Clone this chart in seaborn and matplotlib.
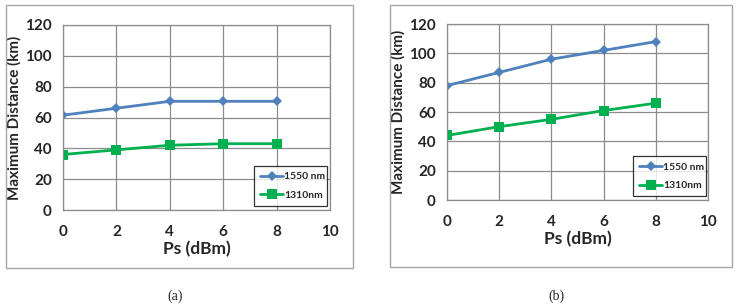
import matplotlib
matplotlib.use("Agg")
import matplotlib.pyplot as plt
import seaborn as sns
import pandas as pd
from matplotlib.patches import Rectangle

ps = [0, 2, 4, 6, 8]
a_1550 = [61.5, 66, 70.5, 70.5, 70.5]
a_1310 = [36, 39, 42, 43, 43]
b_1550 = [78, 87, 96, 102, 108]
b_1310 = [44, 50, 55, 61, 66]
series_names = ["1550 nm", "1310nm"]
x_ticks = [0, 2, 4, 6, 8, 10]
y_ticks = [0, 20, 40, 60, 80, 100, 120]
captions = ["(a)", "(b)"]

sns.set_theme(style="white")
plt.rcParams["font.family"] = ["Lato", "DejaVu Sans"]

fig = plt.figure(figsize=(7.39, 3.07), dpi=100)
W, H = 739, 307

def frac_rect(x0, y0, x1, y1):
    return [x0 / W, 1 - y1 / H, (x1 - x0) / W, (y1 - y0) / H]

# outer frames
for (x0, y0, x1, y1) in [(6, 5, 353, 268), (390, 5, 732, 267)]:
    fig.patches.append(Rectangle((x0 / W, 1 - y1 / H), (x1 - x0) / W, (y1 - y0) / H,
                                 transform=fig.transFigure, fill=False,
                                 edgecolor="#a6a6a6", linewidth=1.0))

axes_specs = [
    (frac_rect(63, 25, 330, 210), a_1550, a_1310, (0.715, 0.02, 0.275, 0.24), -0.154),
    (frac_rect(447, 24, 708, 200), b_1550, b_1310, (0.712, 0.02, 0.282, 0.255), -0.157),
]
palette = {"1550 nm": "#4f81bd", "1310nm": "#00b050"}
markers = {"1550 nm": "D", "1310nm": "s"}

for rect, s1, s2, legbox, ylx in axes_specs:
    ax = fig.add_axes(rect)
    df = pd.DataFrame({
        "Ps": ps + ps,
        "Distance": s1 + s2,
        "Series": [series_names[0]] * len(ps) + [series_names[1]] * len(ps),
    })
    sns.lineplot(data=df, x="Ps", y="Distance", hue="Series", style="Series",
                 markers=markers, dashes=False, palette=palette, ax=ax,
                 linewidth=2, markersize=7, markeredgewidth=0)
    for line in ax.lines:
        if line.get_marker() == "D":
            line.set_markersize(5.5)
    ax.set_xlim(0, 10)
    ax.set_ylim(0, 120)
    ax.set_xticks(x_ticks)
    ax.set_yticks(y_ticks)
    ax.grid(True, color="#8c8c8c", linewidth=0.9)
    ax.set_axisbelow(True)
    for sp in ax.spines.values():
        sp.set_color("#8c8c8c")
        sp.set_linewidth(0.9)
    ax.tick_params(axis="x", pad=11, length=0, labelsize=11, labelcolor="#262626")
    ax.tick_params(axis="y", pad=8, length=0, labelsize=11, labelcolor="#262626")
    for lab in ax.get_xticklabels() + ax.get_yticklabels():
        lab.set_fontweight("bold")
    ax.set_xlabel("Ps (dBm)", fontsize=12.5, fontweight="bold", color="#262626", labelpad=1)
    ax.set_ylabel("Maximum Distance (km)", fontsize=11, fontweight="bold", color="#262626")
    ax.yaxis.set_label_coords(ylx, 0.5)
    leg = ax.legend(title=None, loc="lower left", bbox_to_anchor=legbox, mode="expand",
                    fontsize=7.5, frameon=True, fancybox=False, handlelength=2.2,
                    handletextpad=0.1, borderaxespad=0, labelspacing=0.9, borderpad=0.6)
    leg.get_frame().set_edgecolor("black")
    leg.get_frame().set_linewidth(0.9)
    for t in leg.get_texts():
        t.set_fontweight("bold")
        t.set_color("#262626")

fig.text(175 / W, 1 - 296 / H, captions[0], ha="center", va="center",
         family=["Liberation Serif", "DejaVu Serif"], fontsize=10)
fig.text(556 / W, 1 - 296 / H, captions[1], ha="center", va="center",
         family=["Liberation Serif", "DejaVu Serif"], fontsize=10)

fig.savefig("out.png", dpi=100)
